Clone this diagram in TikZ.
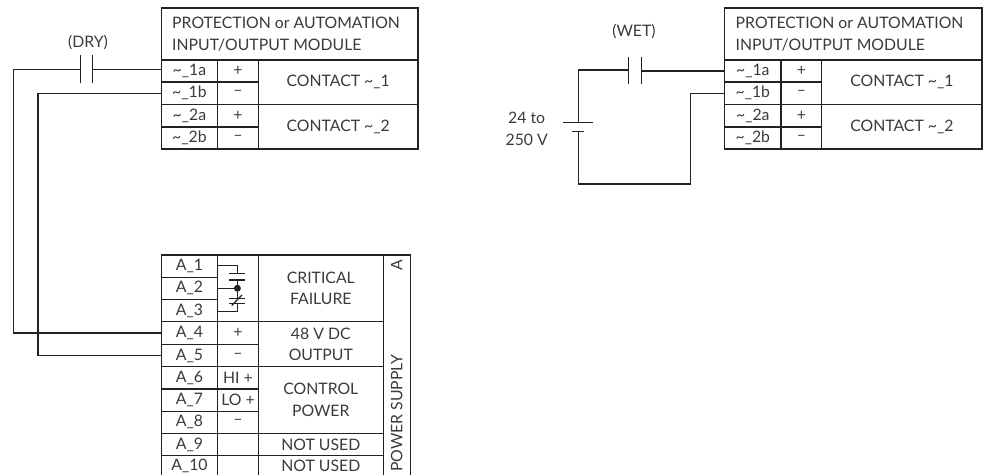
\documentclass[tikz,border=0pt]{standalone}
\usepackage{fontspec}
\setmainfont{Lato}
\definecolor{ink}{HTML}{222222}
\definecolor{txt}{HTML}{3A3A3A}
\newcommand{\cellbox}[6]{% name x1 y1 x2 y2 text
  \path let \n1={#4-#2},\n2={#5-#3} in node[cellstyle,minimum width=\n1 pt,minimum height=\n2 pt] (#1) at ({(#2+#4)/2},{(#3+#5)/2}) {#6};}
\newcommand{\tl}{\textasciitilde\_}
\usetikzlibrary{calc}
\tikzset{
  cellstyle/.style={draw=ink,line width=1.25pt,inner sep=0pt,outer sep=0pt,text=txt,font=\fontsize{15.8}{21.5}\selectfont,align=center},
  wire/.style={draw=ink,line width=1.25pt},
  plate/.style={draw=ink,line width=1.3pt},
  label/.style={text=txt,font=\fontsize{15.8}{21.5}\selectfont,align=center,inner sep=0pt}
}
\begin{document}
\begin{tikzpicture}[x=1pt,y=-1pt]
\useasboundingbox (0,0) rectangle (988,474);
\clip (0,0) rectangle (988,474);
% left module
\def\ma{161.3}\def\mb{217.5}\def\mc{258.3}\def\md{418}
\cellbox{hl}{\ma}{8}{\md}{60}{}
\node[label,anchor=west,align=left] (hlt) at (172,34) {PROTECTION or AUTOMATION\\INPUT/OUTPUT MODULE};
\cellbox{ta}{\ma}{60}{\mb}{82}{\tl 1a}
\cellbox{tb}{\ma}{82}{\mb}{104.3}{\tl 1b}
\cellbox{tc}{\ma}{104.3}{\mb}{127}{\tl 2a}
\cellbox{td}{\ma}{127}{\mb}{149}{\tl 2b}
\cellbox{pa}{\mb}{60}{\mc}{82}{+}
\cellbox{pb}{\mb}{82}{\mc}{104.3}{–}
\cellbox{pc}{\mb}{104.3}{\mc}{127}{+}
\cellbox{pd}{\mb}{127}{\mc}{149}{–}
\cellbox{ca}{\mc}{60}{\md}{104.3}{CONTACT \tl 1}
\cellbox{cb}{\mc}{104.3}{\md}{149}{CONTACT \tl 2}
% right module
\def\na{724.7}\def\nb{781}\def\nc{821.7}\def\nd{982}
\cellbox{hr}{\na}{8}{\nd}{60}{}
\node[label,anchor=west,align=left] (hrt) at (735.5,34) {PROTECTION or AUTOMATION\\INPUT/OUTPUT MODULE};
\cellbox{ua}{\na}{60}{\nb}{82}{\tl 1a}
\cellbox{ub}{\na}{82}{\nb}{104.3}{\tl 1b}
\cellbox{uc}{\na}{104.3}{\nb}{127}{\tl 2a}
\cellbox{ud}{\na}{127}{\nb}{149}{\tl 2b}
\cellbox{qa}{\nb}{60}{\nc}{82}{+}
\cellbox{qb}{\nb}{82}{\nc}{104.3}{–}
\cellbox{qc}{\nb}{104.3}{\nc}{127}{+}
\cellbox{qd}{\nb}{127}{\nc}{149}{–}
\cellbox{da}{\nc}{60}{\nd}{104.3}{CONTACT \tl 1}
\cellbox{db}{\nc}{104.3}{\nd}{149}{CONTACT \tl 2}
% power supply
\def\sa{161.3}\def\sb{217.7}\def\sc{258.3}\def\sd{383.3}\def\se{410.7}
\cellbox{a1}{\sa}{255}{\sb}{277.3}{A\_1}
\cellbox{a2}{\sa}{277.3}{\sb}{299.3}{A\_2}
\cellbox{a3}{\sa}{299.3}{\sb}{321.7}{A\_3}
\cellbox{a4}{\sa}{321.7}{\sb}{344.3}{A\_4}
\cellbox{a5}{\sa}{344.3}{\sb}{366.7}{A\_5}
\cellbox{a6}{\sa}{366.7}{\sb}{389}{A\_6}
\cellbox{a7}{\sa}{389}{\sb}{411.3}{A\_7}
\cellbox{a8}{\sa}{411.3}{\sb}{433.3}{A\_8}
\cellbox{a9}{\sa}{433.3}{\sb}{455.7}{A\_9}
\cellbox{a10}{\sa}{455.7}{\sb}{476}{A\_10}
\cellbox{s1}{\sb}{255}{\sc}{321.7}{}
\cellbox{s4}{\sb}{321.7}{\sc}{344.3}{+}
\cellbox{s5}{\sb}{344.3}{\sc}{366.7}{–}
\cellbox{s6}{\sb}{366.7}{\sc}{389}{HI +}
\cellbox{s7}{\sb}{389}{\sc}{411.3}{LO +}
\cellbox{s8}{\sb}{411.3}{\sc}{433.3}{–}
\cellbox{s9}{\sb}{433.3}{\sc}{455.7}{}
\cellbox{s10}{\sb}{455.7}{\sc}{476}{}
\cellbox{f1}{\sc}{255}{\sd}{321.7}{CRITICAL\\FAILURE}
\cellbox{f2}{\sc}{321.7}{\sd}{366.7}{48 V DC\\OUTPUT}
\cellbox{f3}{\sc}{366.7}{\sd}{433.3}{CONTROL\\POWER}
\cellbox{f4}{\sc}{433.3}{\sd}{455.7}{NOT USED}
\cellbox{f5}{\sc}{455.7}{\sd}{476}{NOT USED}
\cellbox{psu}{\sd}{255}{\se}{476}{}
\node[label,rotate=90] (psa) at (396.7,265) {A};
\node[label,rotate=90,anchor=west] (pst) at (396.7,472) {POWER SUPPLY};
% critical failure relay
\coordinate (k1) at (237.4,265.3);
\coordinate (k2) at (237.4,273.3);
\coordinate (k3) at (237.4,280);
\node[circle,fill=ink,inner sep=0pt,minimum size=7pt] (kd) at (237.4,288.3) {};
\coordinate (k4) at (237.4,298.3);
\coordinate (k5) at (237.4,303.3);
\coordinate (k6) at (237.4,311.7);
\draw[wire] (k1 -| a1.east) -- (k1) -- (k2);
\draw[plate] ([xshift=-8]k2) -- ([xshift=8]k2);
\draw[plate] ([xshift=-8]k3) -- ([xshift=8]k3);
\draw[wire] (k3) -- (kd) -- (k4);
\draw[wire] (kd -| a2.east) -- (kd);
\draw[plate] ([xshift=-8]k4) -- ([xshift=8]k4);
\draw[plate] ([xshift=-8]k5) -- ([xshift=8]k5);
\draw[wire] (231.7,305.5) -- (242,295);
\draw[wire] (k5) -- (k6) -- (k6 -| a3.east);
% dry contact
\node[label] (dry) at (88,43) {(DRY)};
\coordinate (dl) at (80.7,69.8);
\coordinate (dr) at (92.5,69.8);
\draw[plate] (80.7,55) -- (80.7,83);
\draw[plate] (92.5,55) -- (92.5,83);
\coordinate (w1) at (13.5,69.8);
\coordinate (w2) at (38,93);
\draw[wire] (dr) -- (dr -| ta.west);
\draw[wire] (dl) -- (w1) -- (w1 |- a4.west) -- (a4.west);
\draw[wire] (tb.west) -- (w2 |- tb.west) -- (w2 |- a5.west) -- (a5.west);
% wet contact
\node[label] (wet) at (634,32) {(WET)};
\coordinate (el) at (628.3,70);
\coordinate (er) at (641.7,71);
\draw[plate] (628.3,57) -- (628.3,84);
\draw[plate] (641.7,57) -- (641.7,84);
\draw[wire] (er) -- (er -| ua.west);
\coordinate (bt) at (578.3,122.3);
\coordinate (bb) at (578.3,131.3);
\draw[wire] (el) -- (el -| bt) -- (bt);
\draw[plate] (563.3,122.3) -- (593.3,122.3);
\draw[plate] (572.3,131.3) -- (584.3,131.3);
\coordinate (w3) at (690.7,184);
\draw[wire] (bb) -- (bb |- w3) -- (w3) -- (w3 |- ub.west) -- (ub.west);
\node[label] (volt) at (526.7,129) {24 to\\250 V};
\end{tikzpicture}
\end{document}
